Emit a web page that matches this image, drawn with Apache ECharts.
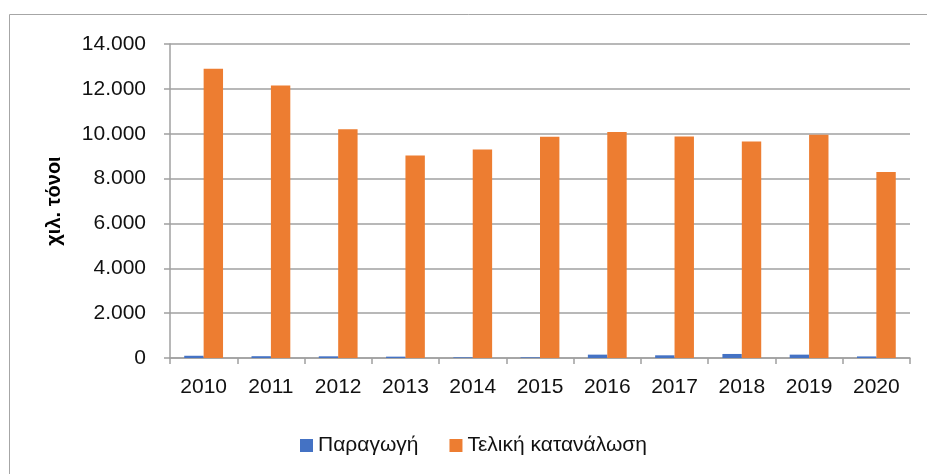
<!DOCTYPE html>
<html>
<head>
<meta charset="utf-8">
<script src="https://cdn.jsdelivr.net/npm/echarts@6/dist/echarts.min.js"></script>
<style>
html,body{margin:0;padding:0;background:#fff;}
#c{width:927px;height:474px;}
</style>
</head>
<body>
<div id="c"></div>
<script>
const years = ['2010','2011','2012','2013','2014','2015','2016','2017','2018','2019','2020'];
const production = [100, 80, 75, 60, 30, 30, 150, 120, 180, 150, 70];
const consumption = [12900, 12150, 10200, 9030, 9300, 9870, 10080, 9880, 9650, 9950, 8290];
const seriesNames = ['Παραγωγή', 'Τελική κατανάλωση'];
const yAxisTitle = 'χιλ. τόνοι';

const FONT = '"Liberation Sans", Arial, sans-serif';
const chart = echarts.init(document.getElementById('c'), null, {renderer: 'canvas'});
chart.setOption({
  animation: false,
  backgroundColor: '#fff',
  textStyle: {fontFamily: FONT},
  graphic: [{
    type: 'rect',
    shape: {x: 9.5, y: 14.5, width: 940, height: 480},
    style: {fill: 'none', stroke: '#a6a6a6', lineWidth: 1},
    silent: true
  }],
  legend: {
    data: seriesNames,
    left: 295,
    top: 430,
    itemWidth: 13,
    itemHeight: 13,
    itemGap: 31,
    icon: 'rect',
    textStyle: {fontFamily: FONT, fontSize: 21, color: '#111', padding: [0, 0, 0, 0]}
  },
  grid: {left: 170, right: 17, top: 44, bottom: 116, containLabel: false},
  xAxis: {
    type: 'category',
    data: years,
    axisLine: {lineStyle: {color: '#a0a0a0', width: 1.5}},
    axisTick: {show: true, alignWithLabel: false, length: 6, lineStyle: {color: '#a0a0a0', width: 1.5}},
    axisLabel: {fontFamily: FONT, fontSize: 21, color: '#111', margin: 19}
  },
  yAxis: {
    type: 'value',
    min: 0,
    max: 14000,
    interval: 2000,
    name: yAxisTitle,
    nameLocation: 'middle',
    nameGap: 106,
    nameTextStyle: {fontFamily: FONT, fontSize: 20, fontWeight: 'bold', color: '#000'},
    axisLine: {show: true, lineStyle: {color: '#a0a0a0', width: 1.5}},
    axisTick: {show: true, length: 6, lineStyle: {color: '#a0a0a0', width: 1.5}},
    splitLine: {lineStyle: {color: '#a0a0a0', width: 1.5}},
    axisLabel: {
      fontFamily: FONT, fontSize: 21, color: '#111', margin: 24,
      formatter: v => v === 0 ? '0' : v.toLocaleString('de-DE')
    }
  },
  series: [
    {name: seriesNames[0], type: 'bar', data: production, barWidth: 19.4, barGap: '0%', itemStyle: {color: '#4472C4'}},
    {name: seriesNames[1], type: 'bar', data: consumption, barWidth: 19.4, barGap: '0%', itemStyle: {color: '#ED7D31'}}
  ]
});
</script>
</body>
</html>
